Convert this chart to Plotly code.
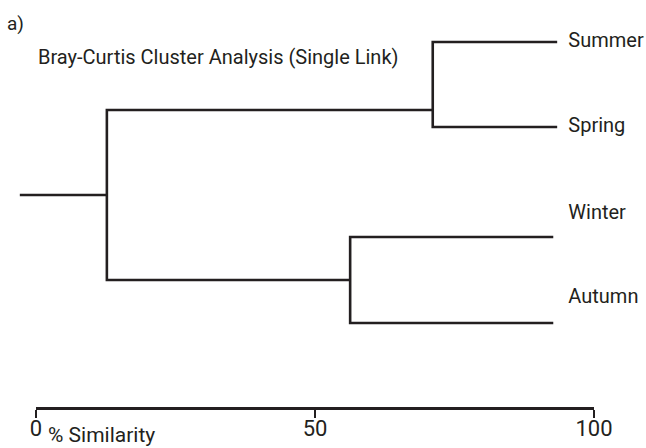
import plotly.graph_objects as go

# Leaves of the dendrogram (top to bottom)
leaves = ["Summer", "Spring", "Winter", "Autumn"]
# Similarity (%) at which each leaf branch ends on the right
leaf_end = [93.4, 93.4, 92.7, 92.7]
# Merge levels (% similarity)
merge_summer_spring = 71.1
merge_winter_autumn = 56.3
merge_all = 12.7
root_start = -2.9

# Vertical layout of the tree (screen units, top = 0)
leaf_y = [42, 127, 237, 323]
label_y = [42, 127, 214, 298]
node_y_top = 110
node_y_bottom = 280
node_y_root = 195

tick_vals = [0, 50, 100]
tick_text = ["0", "50", "100"]

W, H = 646, 448
X0_PX, X100_PX = 36, 594
AXIS_Y_PX = 408
INK = "#231f20"
FONT = "Roboto, Liberation Sans, sans-serif"

px_per_pct = (X100_PX - X0_PX) / 100.0
x_lo = -4
dom_lo = (X0_PX + x_lo * px_per_pct) / W
dom_hi = X100_PX / W

# Build the tree as connected elbow segments
xs, ys = [], []
def seg(x, y):
    xs.extend(x + [None])
    ys.extend(y + [None])

# leaves to their merge points
seg([leaf_end[0], merge_summer_spring, merge_summer_spring, leaf_end[1]],
    [leaf_y[0], leaf_y[0], leaf_y[1], leaf_y[1]])
seg([leaf_end[2], merge_winter_autumn, merge_winter_autumn, leaf_end[3]],
    [leaf_y[2], leaf_y[2], leaf_y[3], leaf_y[3]])
# clusters to the root
seg([merge_summer_spring, merge_all, merge_all, merge_winter_autumn],
    [node_y_top, node_y_top, node_y_bottom, node_y_bottom])
seg([root_start, merge_all], [node_y_root, node_y_root])

fig = go.Figure()
fig.add_trace(go.Scatter(x=xs, y=ys, mode="lines",
                         line=dict(color=INK, width=2.6),
                         hoverinfo="skip", showlegend=False))
# leaf labels
fig.add_trace(go.Scatter(x=[95.4] * len(leaves), y=label_y, mode="text",
                         text=leaves, textposition="middle right",
                         textfont=dict(family=FONT, size=20, color=INK),
                         cliponaxis=False, hoverinfo="skip", showlegend=False))
# carrier for the similarity scale
fig.add_trace(go.Scatter(x=[0, 100], y=[None, None], xaxis="x2", yaxis="y",
                         mode="lines", hoverinfo="skip", showlegend=False))

fig.update_layout(
    width=W, height=H,
    margin=dict(l=0, r=0, t=0, b=0, autoexpand=False),
    paper_bgcolor="white", plot_bgcolor="rgba(0,0,0,0)",
    xaxis=dict(domain=[dom_lo, dom_hi], range=[x_lo, 100], visible=False),
    yaxis=dict(domain=[0, 1], range=[H, 0], visible=False),
    xaxis2=dict(domain=[X0_PX / W, X100_PX / W], range=[0, 100],
                anchor="free", position=1 - AXIS_Y_PX / H, automargin=False,
                showline=True, linecolor=INK, linewidth=2.6,
                ticks="outside", ticklen=8, tickwidth=2, tickcolor=INK,
                tickvals=tick_vals, ticktext=tick_text,
                ticklabelstandoff=-8,
                tickfont=dict(family=FONT, size=22, color=INK),
                showgrid=False, zeroline=False),
    annotations=[
        dict(text="a)", x=5 / W, y=1 - 10 / H, xref="paper", yref="paper",
             xanchor="left", yanchor="top", showarrow=False,
             font=dict(family=FONT, size=19, color=INK)),
        dict(text="Bray-Curtis Cluster Analysis (Single Link)",
             x=36 / W, y=1 - 57 / H, xref="paper", yref="paper",
             xanchor="left", yanchor="middle", showarrow=False,
             font=dict(family=FONT, size=20, color=INK)),
        dict(text="% Similarity", x=46 / W, y=1 - 435 / H,
             xref="paper", yref="paper", xanchor="left", yanchor="middle",
             showarrow=False, font=dict(family=FONT, size=21, color=INK)),
    ],
)

fig.write_html("out.html")
